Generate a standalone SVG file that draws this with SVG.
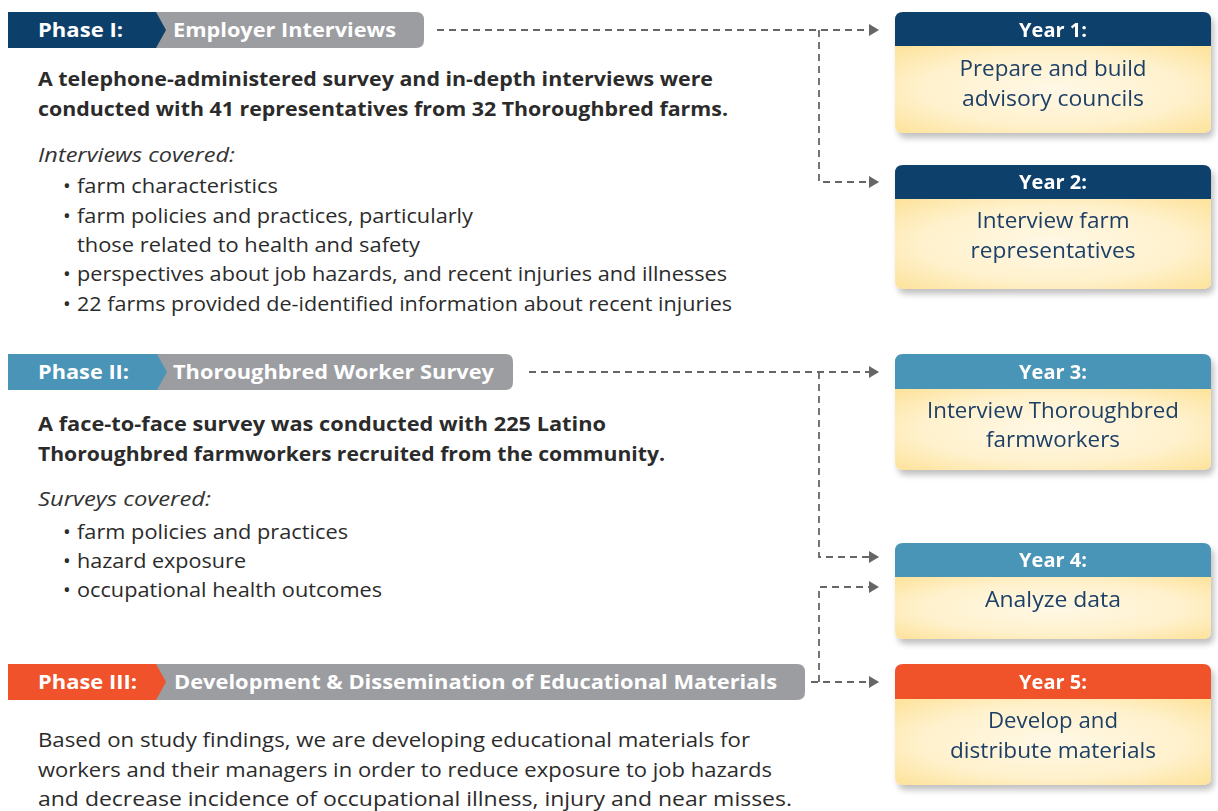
<svg xmlns="http://www.w3.org/2000/svg" width="1218" height="811" viewBox="0 0 1218 811">
<style>
.ph{font-family:"Open Sans","Liberation Sans",sans-serif;font-weight:700;font-size:20px;fill:#fff}
.bd{font-family:"Open Sans","Liberation Sans",sans-serif;font-weight:700;font-size:19.5px;fill:#2b2b2b}
.it{font-family:"Open Sans","Liberation Sans",sans-serif;font-style:italic;font-size:20.5px;fill:#333}
.tx{font-family:"Open Sans","Liberation Sans",sans-serif;font-size:20.5px;fill:#2b2b2b}
.yh{font-family:"Open Sans","Liberation Sans",sans-serif;font-weight:700;font-size:20px;fill:#fff;text-anchor:middle}
.yb{font-family:"Open Sans","Liberation Sans",sans-serif;font-size:22px;fill:#1d3f66;text-anchor:middle}
.gray{fill:#9c9da1}
.cn{fill:none;stroke:#666;stroke-width:1.8;stroke-dasharray:7 5}
</style>
<defs>
<radialGradient id="yel" cx="0.5" cy="0.5" r="0.7">
<stop offset="0" stop-color="#fff8e6"/>
<stop offset="0.6" stop-color="#fff1cc"/>
<stop offset="1" stop-color="#fde29a"/>
</radialGradient>
<filter id="sh" x="-10%" y="-10%" width="125%" height="135%">
<feGaussianBlur in="SourceAlpha" stdDeviation="3"/>
<feOffset dx="3" dy="5"/>
<feComponentTransfer><feFuncA type="linear" slope="0.25"/></feComponentTransfer>
<feMerge><feMergeNode/><feMergeNode in="SourceGraphic"/></feMerge>
</filter>
<marker id="ar" markerWidth="10" markerHeight="12" refX="9" refY="6" orient="auto" markerUnits="userSpaceOnUse">
<path d="M0,0 L10,6 L0,12 Z" fill="#666"/>
</marker>
</defs>
<rect width="1218" height="811" fill="#fff"/>

<g id="connectors">
<path class="cn" d="M437,30 H878" marker-end="url(#ar)"/>
<path class="cn" d="M819,30 V182 H878" marker-end="url(#ar)"/>
<path class="cn" d="M529,372 H878" marker-end="url(#ar)"/>
<path class="cn" d="M819,372 V557 H878" marker-end="url(#ar)"/>
<path class="cn" d="M811,682 H878" marker-end="url(#ar)"/>
<path class="cn" d="M819,682 V587 H878" marker-end="url(#ar)"/>
</g>

<g id="phase1">
<path class="gray" d="M150,12 H416 Q424,12 424,20 V40 Q424,48 416,48 H150 Z"/>
<path d="M8,12 H156 L166,30 L156,48 H8 Z" fill="#0d3f6b"/>
<text class="ph" x="38" y="37" textLength="85" lengthAdjust="spacingAndGlyphs">Phase I:</text>
<text class="ph" x="173" y="37" textLength="223" lengthAdjust="spacingAndGlyphs">Employer Interviews</text>
<text class="bd" x="38" y="86" textLength="675" lengthAdjust="spacingAndGlyphs">A telephone-administered survey and in-depth interviews were</text>
<text class="bd" x="38" y="116" textLength="690" lengthAdjust="spacingAndGlyphs">conducted with 41 representatives from 32 Thoroughbred farms.</text>
<text class="it" x="38" y="162" textLength="197" lengthAdjust="spacingAndGlyphs">Interviews covered:</text>
<text class="tx" x="63" y="193">•</text><text class="tx" x="77" y="193" textLength="201" lengthAdjust="spacingAndGlyphs">farm characteristics</text>
<text class="tx" x="63" y="223">•</text><text class="tx" x="77" y="223" textLength="396" lengthAdjust="spacingAndGlyphs">farm policies and practices, particularly</text>
<text class="tx" x="77" y="252" textLength="343" lengthAdjust="spacingAndGlyphs">those related to health and safety</text>
<text class="tx" x="63" y="281">•</text><text class="tx" x="77" y="281" textLength="650" lengthAdjust="spacingAndGlyphs">perspectives about job hazards, and recent injuries and illnesses</text>
<text class="tx" x="63" y="311">•</text><text class="tx" x="77" y="311" textLength="655" lengthAdjust="spacingAndGlyphs">22 farms provided de-identified information about recent injuries</text>
</g>

<g id="phase2">
<path class="gray" d="M150,354 H505 Q513,354 513,362 V382 Q513,390 505,390 H150 Z"/>
<path d="M8,354 H157 L167,372 L157,390 H8 Z" fill="#4a95b7"/>
<text class="ph" x="38" y="379" textLength="91" lengthAdjust="spacingAndGlyphs">Phase II:</text>
<text class="ph" x="173" y="379" textLength="321" lengthAdjust="spacingAndGlyphs">Thoroughbred Worker Survey</text>
<text class="bd" x="38" y="431" textLength="568" lengthAdjust="spacingAndGlyphs">A face-to-face survey was conducted with 225 Latino</text>
<text class="bd" x="38" y="461" textLength="627" lengthAdjust="spacingAndGlyphs">Thoroughbred farmworkers recruited from the community.</text>
<text class="it" x="38" y="506" textLength="173" lengthAdjust="spacingAndGlyphs">Surveys covered:</text>
<text class="tx" x="63" y="539">•</text><text class="tx" x="77" y="539" textLength="271" lengthAdjust="spacingAndGlyphs">farm policies and practices</text>
<text class="tx" x="63" y="568">•</text><text class="tx" x="77" y="568" textLength="169" lengthAdjust="spacingAndGlyphs">hazard exposure</text>
<text class="tx" x="63" y="597">•</text><text class="tx" x="77" y="597" textLength="305" lengthAdjust="spacingAndGlyphs">occupational health outcomes</text>
</g>

<g id="phase3">
<path class="gray" d="M150,664 H797 Q805,664 805,672 V692 Q805,700 797,700 H150 Z"/>
<path d="M8,664 H156 L166,682 L156,700 H8 Z" fill="#f0522b"/>
<text class="ph" x="38" y="689" textLength="99" lengthAdjust="spacingAndGlyphs">Phase III:</text>
<text class="ph" x="174" y="689" textLength="603" lengthAdjust="spacingAndGlyphs">Development &amp; Dissemination of Educational Materials</text>
<text class="tx" x="38" y="747" textLength="712" lengthAdjust="spacingAndGlyphs">Based on study findings, we are developing educational materials for</text>
<text class="tx" x="38" y="777" textLength="734" lengthAdjust="spacingAndGlyphs">workers and their managers in order to reduce exposure to job hazards</text>
<text class="tx" x="38" y="806" textLength="754" lengthAdjust="spacingAndGlyphs">and decrease incidence of occupational illness, injury and near misses.</text>
</g>

<g id="year1" filter="url(#sh)">
<path d="M895,46 H1211 V125 Q1211,133 1203,133 H903 Q895,133 895,125 Z" fill="url(#yel)"/>
<path d="M903,12 H1203 Q1211,12 1211,20 V46 H895 V20 Q895,12 903,12 Z" fill="#0d3f6b"/>
<text class="yh" x="1053" y="37">Year 1:</text>
<text class="yb" x="1053" y="76" textLength="187" lengthAdjust="spacingAndGlyphs">Prepare and build</text>
<text class="yb" x="1053" y="106" textLength="182" lengthAdjust="spacingAndGlyphs">advisory councils</text>
</g>

<g id="year2" filter="url(#sh)">
<path d="M895,199 H1211 V281 Q1211,289 1203,289 H903 Q895,289 895,281 Z" fill="url(#yel)"/>
<path d="M903,165 H1203 Q1211,165 1211,173 V199 H895 V173 Q895,165 903,165 Z" fill="#0d3f6b"/>
<text class="yh" x="1053" y="189">Year 2:</text>
<text class="yb" x="1053" y="228" textLength="153" lengthAdjust="spacingAndGlyphs">Interview farm</text>
<text class="yb" x="1053" y="258" textLength="165" lengthAdjust="spacingAndGlyphs">representatives</text>
</g>

<g id="year3" filter="url(#sh)">
<path d="M895,389 H1211 V462 Q1211,470 1203,470 H903 Q895,470 895,462 Z" fill="url(#yel)"/>
<path d="M903,354 H1203 Q1211,354 1211,362 V389 H895 V362 Q895,354 903,354 Z" fill="#4a95b7"/>
<text class="yh" x="1053" y="379">Year 3:</text>
<text class="yb" x="1053" y="418" textLength="252" lengthAdjust="spacingAndGlyphs">Interview Thoroughbred</text>
<text class="yb" x="1053" y="447" textLength="134" lengthAdjust="spacingAndGlyphs">farmworkers</text>
</g>

<g id="year4" filter="url(#sh)">
<path d="M895,577 H1211 V631 Q1211,639 1203,639 H903 Q895,639 895,631 Z" fill="url(#yel)"/>
<path d="M903,543 H1203 Q1211,543 1211,551 V577 H895 V551 Q895,543 903,543 Z" fill="#4a95b7"/>
<text class="yh" x="1053" y="567">Year 4:</text>
<text class="yb" x="1053" y="607" textLength="136" lengthAdjust="spacingAndGlyphs">Analyze data</text>
</g>

<g id="year5" filter="url(#sh)">
<path d="M895,699 H1211 V777 Q1211,785 1203,785 H903 Q895,785 895,777 Z" fill="url(#yel)"/>
<path d="M903,664 H1203 Q1211,664 1211,672 V699 H895 V672 Q895,664 903,664 Z" fill="#f0522b"/>
<text class="yh" x="1053" y="689">Year 5:</text>
<text class="yb" x="1053" y="728" textLength="130" lengthAdjust="spacingAndGlyphs">Develop and</text>
<text class="yb" x="1053" y="758" textLength="206" lengthAdjust="spacingAndGlyphs">distribute materials</text>
</g>
</svg>
